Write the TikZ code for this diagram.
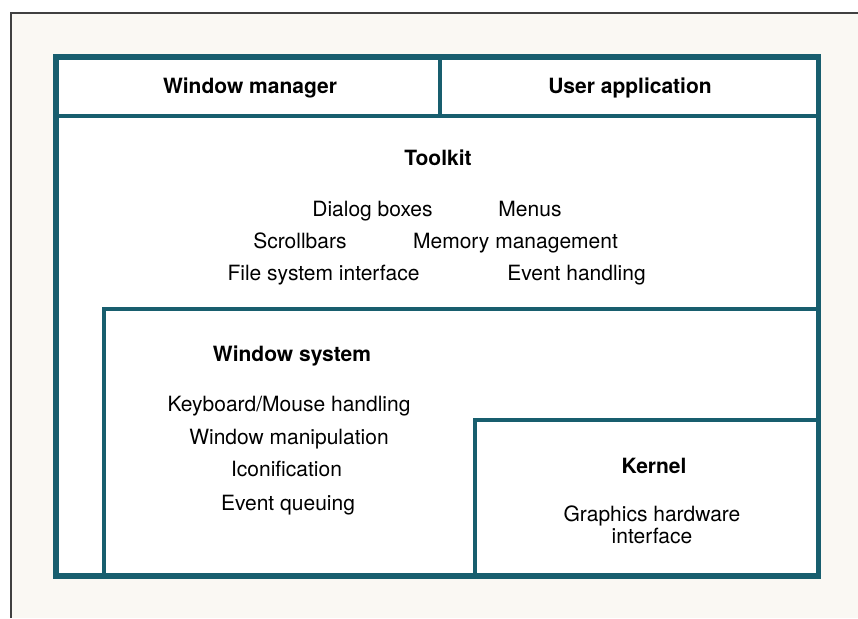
\documentclass[tikz,border=0pt]{standalone}
\usepackage{fontspec}
\setmainfont{TeX Gyre Heros}
\definecolor{layerteal}{RGB}{24,94,110}
\definecolor{paper}{RGB}{250,248,243}
\tikzset{
  wall/.style={draw=layerteal, line width=5.5pt},
  inwall/.style={draw=layerteal, line width=4pt},
  title/.style={font=\fontsize{21}{22}\selectfont\bfseries, inner sep=0pt, anchor=base},
  item/.style={font=\fontsize{21}{22}\selectfont, inner sep=0pt, anchor=base, align=center},
}

\begin{document}
\begin{tikzpicture}[x=1pt, y=-1pt]
  \useasboundingbox (0,0) rectangle (858,618);
  % Page frame
  \fill[paper] (11,13) rectangle (858,618);
  \draw[black!75, line width=1.5pt] (11,618) -- (11,13) -- (858,13);
  \fill[white] (56,57) rectangle (818,576);

  % Layer frames
  \draw[inwall] (103.5,576) -- (103.5,308.5) -- (818,308.5);
  \draw[inwall] (475,576) -- (475,420) -- (818,420);
  \draw[inwall] (56,116) -- (818,116);
  \draw[inwall] (440,57) -- (440,116);
  \draw[wall] (56,57) rectangle (818.5,576);

  % Top row
  \node[title] (wm) at (250,93) {Window manager};
  \node[title] (app) at (630,93) {User application};

  % Toolkit
  \node[title] (toolkit) at (438,165) {Toolkit};
  \node[item] (dialog) at (372.5,216) {Dialog boxes};
  \node[item] (menus) at (530,216) {Menus};
  \node[item] (scroll) at (300,248) {Scrollbars};
  \node[item] (memory) at (515.5,248) {Memory management};
  \node[item] (files) at (323.5,280) {File system interface};
  \node[item] (events) at (576.5,280) {Event handling};

  % Window system
  \node[title] (winsys) at (292,361.5) {Window system};
  \node[item] (input) at (289,411) {Keyboard/Mouse handling};
  \node[item] (manip) at (289,444) {Window manipulation};
  \node[item] (icon) at (286.5,476.5) {Iconification};
  \node[item] (queue) at (288,510) {Event queuing};

  % Kernel
  \node[title] (kernel) at (654,473) {Kernel};
  \node[item] (gfx) at (652,543) {Graphics hardware\\interface};
\end{tikzpicture}
\end{document}
